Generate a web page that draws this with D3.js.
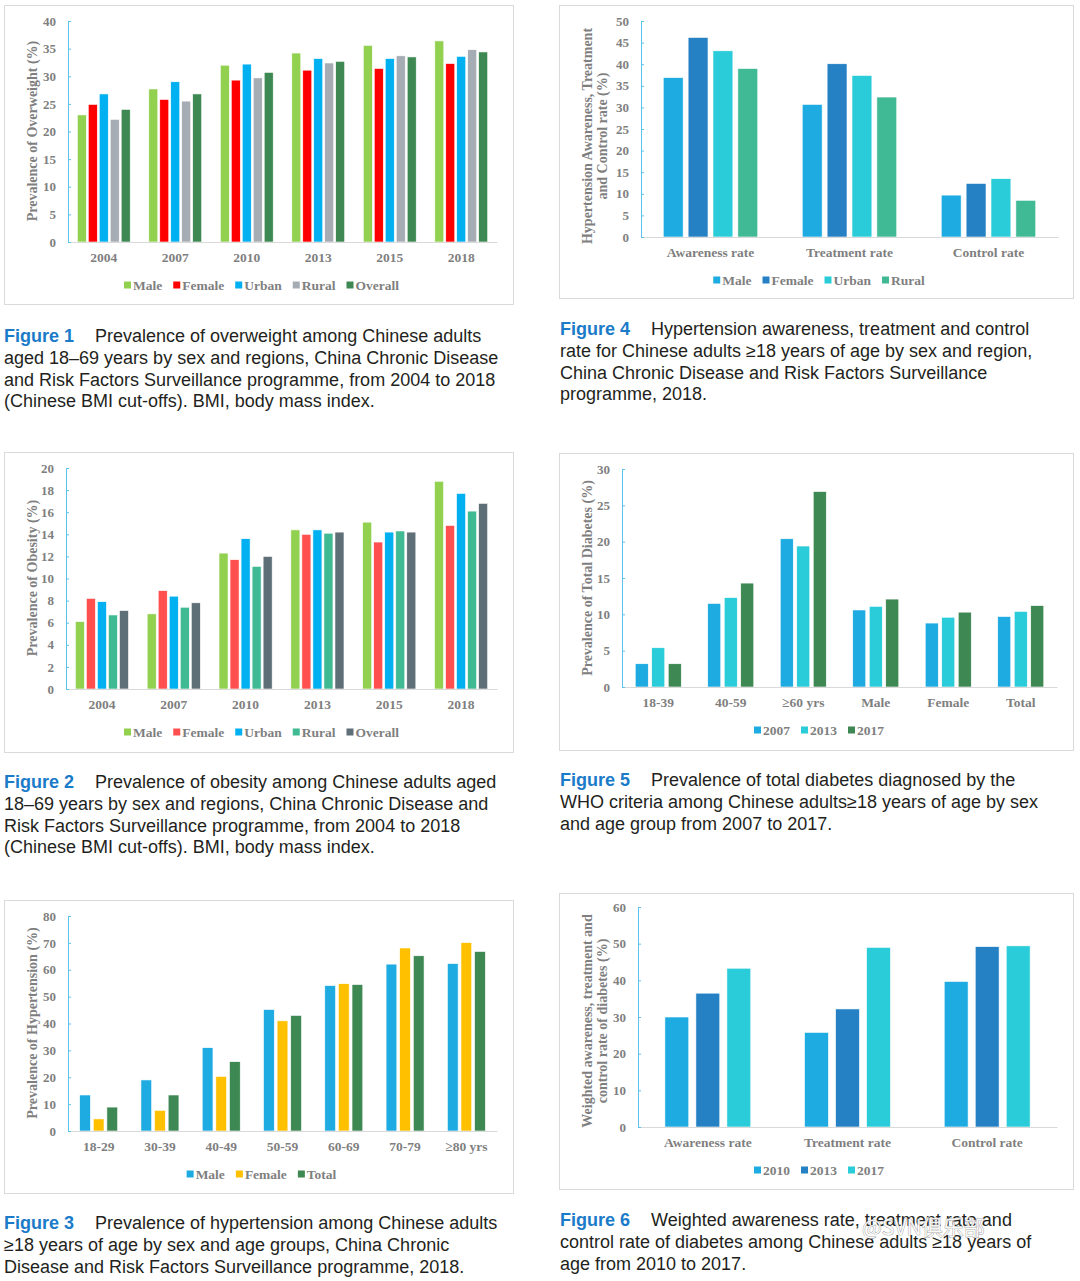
<!DOCTYPE html>
<html>
<head>
<meta charset="utf-8">
<script src="https://cdn.jsdelivr.net/npm/d3@7"></script>
<style>
  body { margin: 0; background: #fff; }
</style>
</head>
<body>
<svg id="page"></svg>
<script>
'use strict';

// Figure 1 - overweight
const owYears = ['2004', '2007', '2010', '2013', '2015', '2018'];
const owSeries = ['Male', 'Female', 'Urban', 'Rural', 'Overall'];
const owValues = [
  [23.0, 24.9, 26.8, 22.2, 24.0],
  [27.7, 25.8, 29.0, 25.5, 26.8],
  [32.0, 29.3, 32.2, 29.7, 30.7],
  [34.2, 31.1, 33.2, 32.4, 32.7],
  [35.6, 31.4, 33.2, 33.7, 33.5],
  [36.4, 32.3, 33.6, 34.8, 34.4],
];

// Figure 2 - obesity
const obYears = ['2004', '2007', '2010', '2013', '2015', '2018'];
const obSeries = ['Male', 'Female', 'Urban', 'Rural', 'Overall'];
const obValues = [
  [6.1, 8.2, 7.9, 6.7, 7.1],
  [6.8, 8.9, 8.4, 7.4, 7.8],
  [12.3, 11.7, 13.6, 11.1, 12.0],
  [14.4, 14.0, 14.4, 14.1, 14.2],
  [15.1, 13.3, 14.2, 14.3, 14.2],
  [18.8, 14.8, 17.7, 16.1, 16.8],
];

// Figure 3 - hypertension by age
const htAges = ['18-29', '30-39', '40-49', '50-59', '60-69', '70-79', '≥80 yrs'];
const htSeries = ['Male', 'Female', 'Total'];
const htValues = [
  [13.4, 4.5, 8.9],
  [19.0, 7.7, 13.4],
  [31.0, 20.3, 25.8],
  [45.2, 41.0, 43.0],
  [54.1, 54.8, 54.5],
  [62.1, 68.1, 65.2],
  [62.3, 70.1, 66.8],
];

// Figure 4 - hypertension awareness / treatment / control
const htRates = ['Awareness rate', 'Treatment rate', 'Control rate'];
const htRateSeries = ['Male', 'Female', 'Urban', 'Rural'];
const htRateValues = [
  [36.9, 46.2, 43.1, 39.0],
  [30.7, 40.1, 37.4, 32.4],
  [9.7, 12.4, 13.5, 8.5],
];

// Figure 5 - total diabetes
const dmGroups = ['18-39', '40-59', '≥60 yrs', 'Male', 'Female', 'Total'];
const dmSeries = ['2007', '2013', '2017'];
const dmValues = [
  [3.2, 5.4, 3.2],
  [11.5, 12.3, 14.3],
  [20.4, 19.4, 26.9],
  [10.6, 11.1, 12.1],
  [8.8, 9.6, 10.3],
  [9.7, 10.4, 11.2],
];

// Figure 6 - diabetes awareness / treatment / control
const dmRates = ['Awareness rate', 'Treatment rate', 'Control rate'];
const dmRateSeries = ['2010', '2013', '2017'];
const dmRateValues = [
  [30.0, 36.5, 43.3],
  [25.8, 32.2, 49.0],
  [39.7, 49.2, 49.4],
];

// captions
const cap1 = ['Prevalence of overweight among Chinese adults',
  'aged 18–69 years by sex and regions, China Chronic Disease',
  'and Risk Factors Surveillance programme, from 2004 to 2018',
  '(Chinese BMI cut-offs). BMI, body mass index.'];
const cap2 = ['Prevalence of obesity among Chinese adults aged',
  '18–69 years by sex and regions, China Chronic Disease and',
  'Risk Factors Surveillance programme, from 2004 to 2018',
  '(Chinese BMI cut-offs). BMI, body mass index.'];
const cap3 = ['Prevalence of hypertension among Chinese adults',
  '≥18 years of age by sex and age groups, China Chronic',
  'Disease and Risk Factors Surveillance programme, 2018.'];
const cap4 = ['Hypertension awareness, treatment and control',
  'rate for Chinese adults ≥18 years of age by sex and region,',
  'China Chronic Disease and Risk Factors Surveillance',
  'programme, 2018.'];
const cap5 = ['Prevalence of total diabetes diagnosed by the',
  'WHO criteria among Chinese adults≥18 years of age by sex',
  'and age group from 2007 to 2017.'];
const cap6 = ['Weighted awareness rate, treatment rate and',
  'control rate of diabetes among Chinese adults ≥18 years of',
  'age from 2010 to 2017.'];

const SERIF = '"Liberation Serif", "Times New Roman", serif';
const SANS = '"Liberation Sans", Arial, Helvetica, sans-serif';
const GRAY = '#7f7f7f';
const AXIS_BLUE = '#5cc3f0';

const svg = d3.select('#page')
  .attr('width', 1080)
  .attr('height', 1281)
  .attr('font-family', SANS);

function groupedBars(cfg) {
  const g = svg.append('g');

  // frame
  g.append('rect')
    .attr('x', cfg.box[0] + 0.5)
    .attr('y', cfg.box[1] + 0.5)
    .attr('width', cfg.box[2] - cfg.box[0])
    .attr('height', cfg.box[3] - cfg.box[1])
    .attr('fill', 'none')
    .attr('stroke', '#dadada');

  const x0 = d3.scaleBand()
    .domain(cfg.categories)
    .range([cfg.left, cfg.right])
    .paddingInner(cfg.pad)
    .paddingOuter(cfg.pad / 2);

  const x1 = d3.scaleBand()
    .domain(cfg.series)
    .range([0, x0.bandwidth()])
    .paddingInner(cfg.innerPad);

  const y = d3.scaleLinear()
    .domain([0, cfg.max])
    .range([cfg.bottom, cfg.top]);

  g.append('g')
    .selectAll('g')
    .data(cfg.values)
    .enter()
    .append('g')
    .attr('transform', (d, i) => `translate(${x0(cfg.categories[i])},0)`)
    .selectAll('rect')
    .data((d) => d)
    .enter()
    .append('rect')
    .attr('x', (d, j) => x1(cfg.series[j]))
    .attr('y', (d) => y(d))
    .attr('width', x1.bandwidth())
    .attr('height', (d) => y(0) - y(d))
    .attr('fill', (d, j) => cfg.colors[j])
    .attr('stroke', '#fff')
    .attr('stroke-width', 0.6);

  const xAxis = g.append('g')
    .attr('transform', `translate(0,${y(0)})`)
    .call(d3.axisBottom(x0).tickSize(0).tickSizeOuter(0).tickPadding(10));
  xAxis.select('.domain').attr('stroke', '#d9d9d9');
  xAxis.selectAll('text')
    .attr('font-family', SERIF)
    .attr('font-weight', 'bold')
    .attr('font-size', 13.5)
    .attr('fill', GRAY);

  const yAxis = g.append('g')
    .attr('transform', `translate(${cfg.left},0)`)
    .call(d3.axisLeft(y)
      .tickValues(d3.range(0, cfg.max + 0.001, cfg.step))
      .tickSizeInner(-3)
      .tickSizeOuter(0)
      .tickPadding(12));
  yAxis.select('.domain').attr('stroke', AXIS_BLUE);
  yAxis.selectAll('.tick line').attr('stroke', AXIS_BLUE);
  yAxis.selectAll('text')
    .attr('font-family', SERIF)
    .attr('font-weight', 'bold')
    .attr('font-size', 13)
    .attr('fill', GRAY);

  // y title, one or two lines
  const yl = g.append('text')
    .attr('transform', `translate(${cfg.labelX},${cfg.labelY}) rotate(-90)`)
    .attr('text-anchor', 'middle')
    .attr('font-family', SERIF)
    .attr('font-weight', 'bold')
    .attr('font-size', 14)
    .attr('fill', GRAY);
  cfg.yLabel.forEach((line, i) => {
    yl.append('tspan')
      .attr('x', 0)
      .attr('y', (i - (cfg.yLabel.length - 1) / 2) * 15)
      .attr('dy', '0.35em')
      .text(line);
  });

  // legend, centred on the frame
  const leg = g.append('g');
  let lx = 0;
  cfg.series.forEach((name, j) => {
    leg.append('rect')
      .attr('x', lx)
      .attr('y', -3.5)
      .attr('width', 7)
      .attr('height', 7)
      .attr('fill', cfg.colors[j]);
    const t = leg.append('text')
      .attr('x', lx + 9)
      .attr('dy', '0.35em')
      .attr('font-family', SERIF)
      .attr('font-weight', 'bold')
      .attr('font-size', 13.5)
      .attr('fill', GRAY)
      .text(name);
    lx += 9 + t.node().getComputedTextLength() + 11;
  });
  lx -= 11;
  const cx = (cfg.box[0] + cfg.box[2]) / 2 + 3;
  leg.attr('transform', `translate(${cx - lx / 2},${y(0) + 43})`);
}

function caption(x, y, num, lines) {
  lines.forEach((line, i) => {
    const t = svg.append('text')
      .attr('x', x)
      .attr('y', y + i * 21.8)
      .attr('font-family', SANS)
      .attr('font-size', 18)
      .attr('fill', '#231f20');
    if (i === 0) {
      t.append('tspan')
        .attr('font-weight', 'bold')
        .attr('fill', '#1b7bc8')
        .text(`Figure ${num}`);
      t.append('tspan').attr('dx', 21).text(line);
    } else {
      t.text(line);
    }
  });
}

groupedBars({
  box: [4, 5, 513, 304],
  left: 68, right: 497, top: 21, bottom: 242,
  max: 40, step: 5,
  pad: 0.26, innerPad: 0.18,
  categories: owYears, series: owSeries, values: owValues,
  colors: ['#92d050', '#ff0000', '#00b0f0', '#a5acb3', '#3e8853'],
  yLabel: ['Prevalence of Overweight (%)'],
  labelX: 32, labelY: 131,
});

groupedBars({
  box: [4, 452, 513, 752],
  left: 66, right: 497, top: 468, bottom: 689,
  max: 20, step: 2,
  pad: 0.26, innerPad: 0.18,
  categories: obYears, series: obSeries, values: obValues,
  colors: ['#92d050', '#ff4f4f', '#00b0f0', '#40ba92', '#5f6f78'],
  yLabel: ['Prevalence of Obesity (%)'],
  labelX: 32, labelY: 578,
});

groupedBars({
  box: [4, 900, 513, 1193],
  left: 68, right: 497, top: 916, bottom: 1131,
  max: 80, step: 10,
  pad: 0.38, innerPad: 0.21,
  categories: htAges, series: htSeries, values: htValues,
  colors: ['#1eabe2', '#ffc000', '#3e8853'],
  yLabel: ['Prevalence of Hypertension (%)'],
  labelX: 32, labelY: 1023,
});

groupedBars({
  box: [559, 5, 1073, 298],
  left: 641, right: 1058, top: 21, bottom: 237,
  max: 50, step: 5,
  pad: 0.32, innerPad: 0.2,
  categories: htRates, series: htRateSeries, values: htRateValues,
  colors: ['#1eabe2', '#2581c4', '#29ccd8', '#40ba94'],
  yLabel: ['Hypertension Awareness, Treatment', 'and Control rate (%)'],
  labelX: 594.5, labelY: 136,
});

groupedBars({
  box: [559, 453, 1073, 750],
  left: 622, right: 1057, top: 469, bottom: 687,
  max: 30, step: 5,
  pad: 0.365, innerPad: 0.21,
  categories: dmGroups, series: dmSeries, values: dmValues,
  colors: ['#1eabe2', '#29ccd8', '#3e8853'],
  yLabel: ['Prevalence of Total Diabetes (%)'],
  labelX: 587, labelY: 578,
});

groupedBars({
  box: [559, 893, 1073, 1189],
  left: 638, right: 1057, top: 907, bottom: 1127,
  max: 60, step: 10,
  pad: 0.385, innerPad: 0.23,
  categories: dmRates, series: dmRateSeries, values: dmRateValues,
  colors: ['#1eabe2', '#2581c4', '#29ccd8'],
  yLabel: ['Weighted awareness, treatment and', 'control rate of diabetes (%)'],
  labelX: 594.5, labelY: 1021,
});

caption(4, 342, 1, cap1);
caption(4, 788, 2, cap2);
caption(4, 1229, 3, cap3);
caption(560, 335, 4, cap4);
caption(560, 786, 5, cap5);
caption(560, 1226, 6, cap6);

// watermark over figure 6 caption
svg.append('text')
  .attr('x', 862)
  .attr('y', 1235)
  .attr('font-family', '"Noto Sans CJK SC", sans-serif')
  .attr('font-size', 21)
  .attr('fill', '#fff')
  .attr('fill-opacity', 0.9)
  .attr('stroke', '#8a8a8a')
  .attr('stroke-width', 0.7)
  .attr('paint-order', 'stroke')
  .text('@SVN俱乐部');
</script>
</body>
</html>
